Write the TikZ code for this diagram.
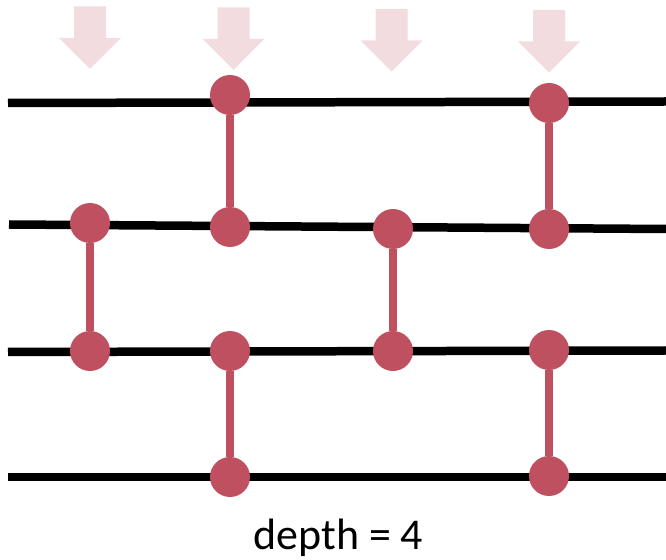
\documentclass[tikz,border=0pt]{standalone}
\usepackage{fontspec}
\setmainfont{Carlito}
\usetikzlibrary{positioning}
\definecolor{gatered}{HTML}{BF505F}
\definecolor{palered}{HTML}{F2DCDF}

\begin{document}
\begin{tikzpicture}[
  x=0.02cm, y=-0.02cm,
  wire/.style={draw=black, line width=0.17cm},
  gate/.style={circle, fill=gatered, minimum size=0.8cm, inner sep=0pt},
  link/.style={draw=gatered, line width=0.16cm},
  layer/.style={fill=palered},
]
\useasboundingbox (0,0) rectangle (666,560);

\foreach \ax/\ay in {90/6.5, 233.5/7.5, 391.5/9, 549/10}
  \fill[layer] (\ax-16,\ay) -- (\ax+16,\ay) -- (\ax+16,\ay+31.5) -- (\ax+31,\ay+31.5)
    -- (\ax,\ay+62.5) -- (\ax-31,\ay+31.5) -- (\ax-16,\ay+31.5) -- cycle;

\coordinate (w1l) at (8,103);
\coordinate (w1r) at (666,101.5);
\coordinate (w2l) at (9,224.5);
\coordinate (w2r) at (666,229);
\coordinate (w3l) at (8,352);
\coordinate (w3r) at (666,350.5);
\coordinate (w4l) at (8,477);
\coordinate (w4r) at (666,477);

\draw[wire] (w1l) -- (w1r);
\draw[wire] (w2l) -- (w2r);
\draw[wire] (w3l) -- (w3r);
\draw[wire] (w4l) -- (w4r);

\node[gate] (a2) at (90,223) {};
\node[gate] (a3) at (90,351) {};
\node[gate] (b1) at (230,95) {};
\node[gate] (b2) at (230,227) {};
\node[gate] (c3) at (230,351) {};
\node[gate] (c4) at (230,477) {};
\node[gate] (d2) at (393,229) {};
\node[gate] (d3) at (393,351) {};
\node[gate] (e1) at (549,103) {};
\node[gate] (e2) at (549,229) {};
\node[gate] (f3) at (549,350) {};
\node[gate] (f4) at (549,476) {};

\draw[link] (a2) -- (a3);
\draw[link] (b1) -- (b2);
\draw[link] (c3) -- (c4);
\draw[link] (d2) -- (d3);
\draw[link] (e1) -- (e2);
\draw[link] (f3) -- (f4);

\node[font=\fontsize{25}{30}\selectfont, inner sep=0pt] (depth) at (338.5,538) {depth = 4};

\end{tikzpicture}
\end{document}
